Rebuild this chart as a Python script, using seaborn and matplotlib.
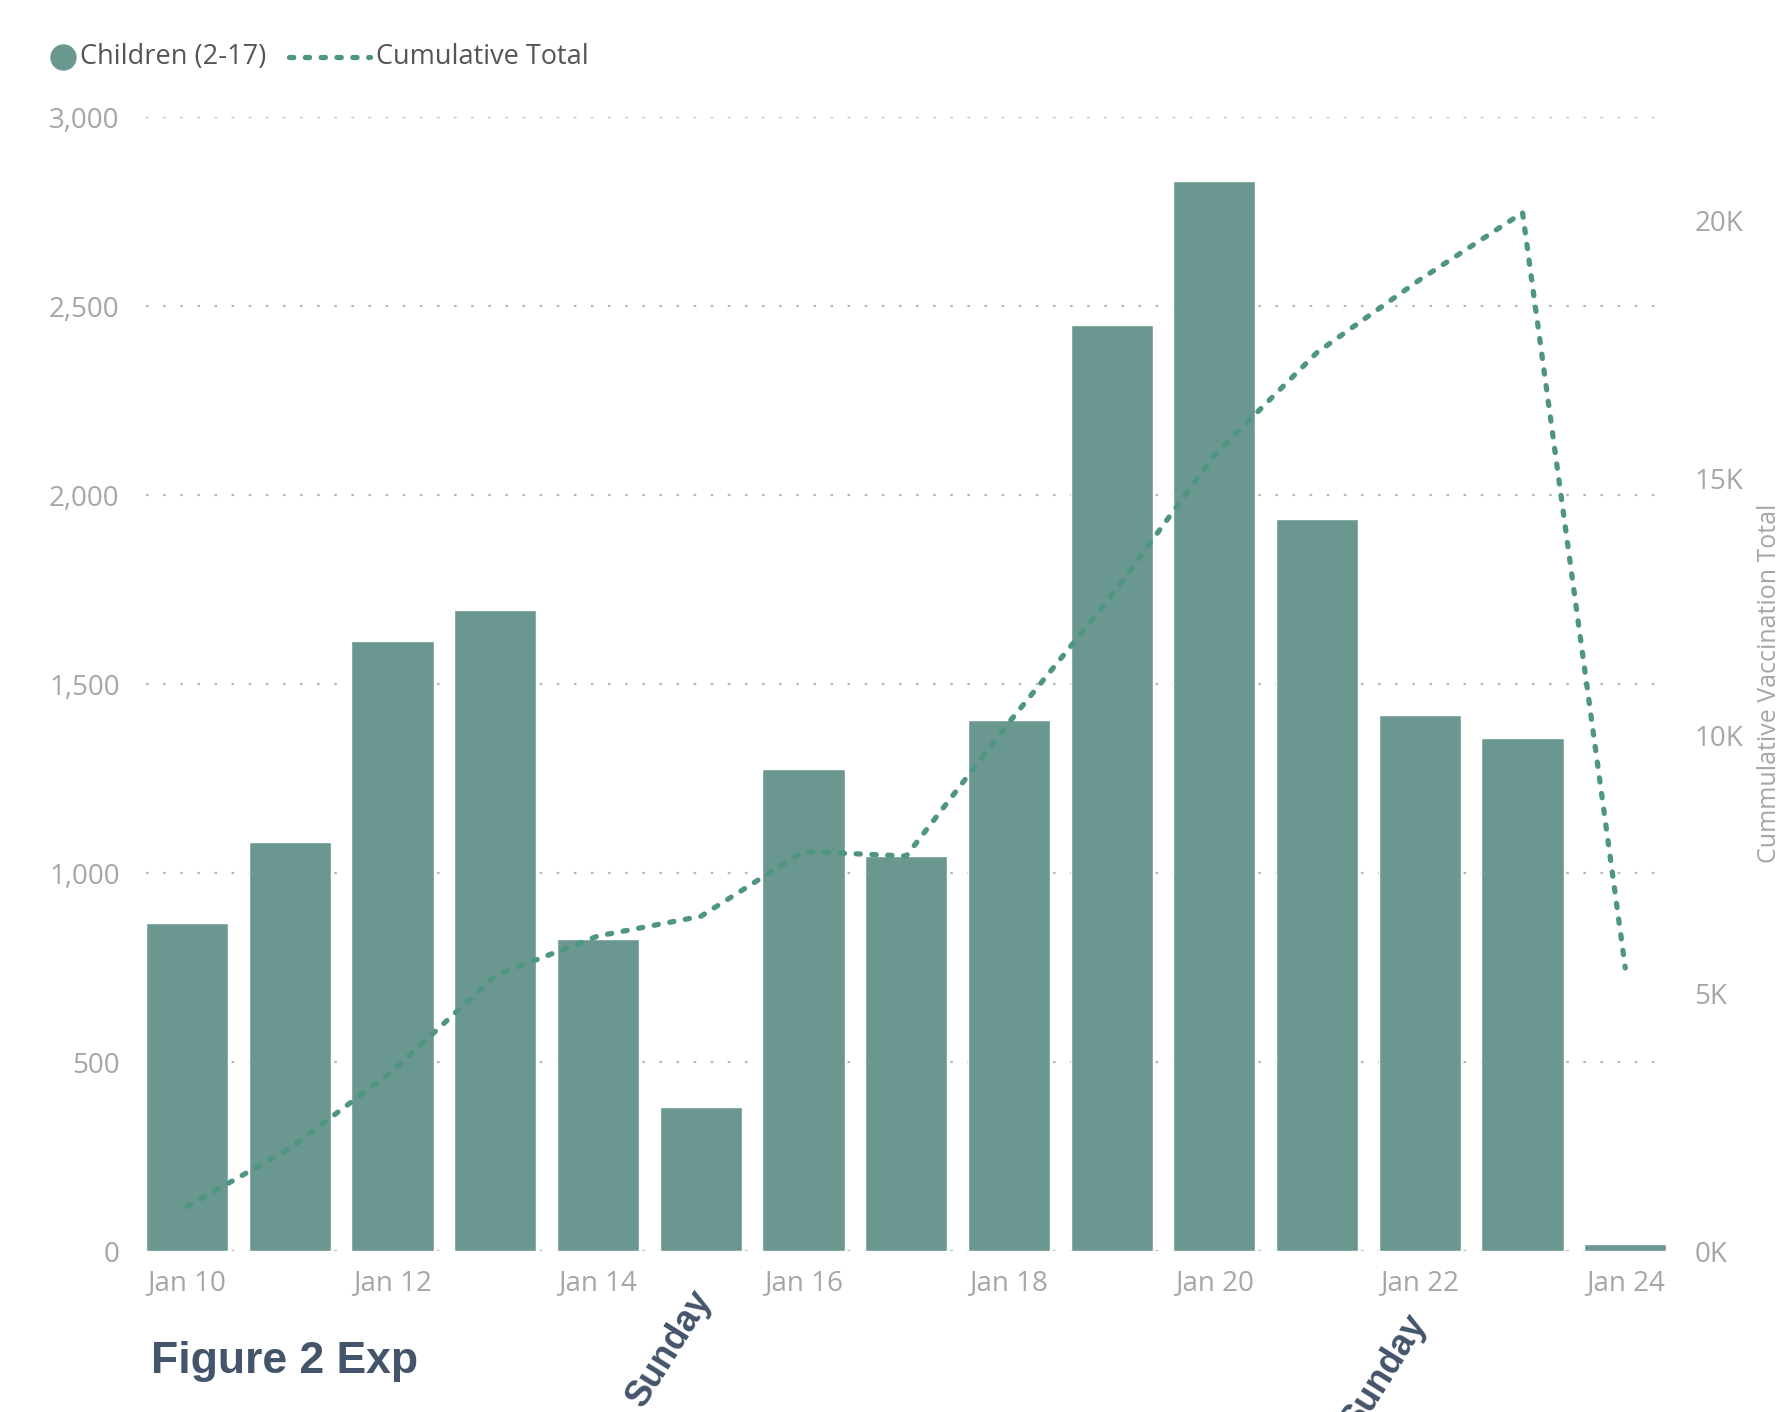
import numpy as np
import pandas as pd
import matplotlib
matplotlib.use("Agg")
import matplotlib.pyplot as plt
from matplotlib.lines import Line2D
from matplotlib.ticker import FuncFormatter
import seaborn as sns

# ---- data ----
dates = ["Jan 10", "Jan 11", "Jan 12", "Jan 13", "Jan 14", "Jan 15", "Jan 16", "Jan 17",
         "Jan 18", "Jan 19", "Jan 20", "Jan 21", "Jan 22", "Jan 23", "Jan 24"]
children = [868, 1082, 1616, 1697, 826, 383, 1275, 1046,
            1405, 2451, 2831, 1938, 1420, 1357, 20]
cumulative = [870, 2000, 3500, 5350, 6120, 6500, 7760, 7670,
              10260, 12720, 15450, 17440, 18850, 20150, 5500]
left_ticks = [0, 500, 1000, 1500, 2000, 2500, 3000]
right_ticks = [0, 5000, 10000, 15000, 20000]
legend_labels = ["Children (2-17)", "Cumulative Total"]
sunday_labels = ["Sunday", "Sunday"]

BAR = "#6a9890"
LINE = "#4f9682"
GRID = "#b9b9b9"
TICK = "#a6a6a6"
DARK = "#44546a"
LINESTYLE = (0, (0.8, 2.2))

sns.set_theme(style="white")
plt.rcParams["font.family"] = ["Open Sans", "DejaVu Sans"]

fig = plt.figure(figsize=(17.87, 14.12), dpi=100)
ax = fig.add_axes([0.0817, 0.1137, 0.8508, 0.8032])

df = pd.DataFrame({"date": dates, "children": children})
sns.barplot(data=df, x="date", y="children", color=BAR, width=0.8,
            saturation=1, ax=ax, zorder=3)

ax.set_ylim(0, 3000)
ax.set_xlim(-0.4, len(dates) - 0.6)
ax.set_yticks(left_ticks)
ax.yaxis.set_major_formatter(FuncFormatter(lambda v, p: f"{int(v):,}"))
ax.set_xticks(range(0, len(dates), 2))
ax.set_xticklabels(dates[::2])
ax.tick_params(axis="both", length=0, colors=TICK, labelsize=20)
ax.tick_params(axis="y", pad=19)
ax.tick_params(axis="x", pad=13)
ax.set_xlabel("")
ax.set_ylabel("")
for s in ax.spines.values():
    s.set_visible(False)
ax.grid(False)
for v in left_ticks:
    ax.axhline(v, color=GRID, lw=1.6, linestyle=(0, (1.2, 6.5)), zorder=1)

ax2 = ax.twinx()
sns.lineplot(x=np.arange(len(cumulative)), y=cumulative, ax=ax2, color=LINE,
             lw=3.8, zorder=4)
ax2.lines[0].set_linestyle(LINESTYLE)
ax2.lines[0].set_dash_capstyle("round")
ax2.set_ylim(0, 22000)
ax2.set_yticks(right_ticks)
ax2.yaxis.set_major_formatter(FuncFormatter(lambda v, p: f"{int(v/1000)}K"))
ax2.tick_params(axis="y", length=0, colors=TICK, labelsize=20, pad=20)
ax2.set_ylabel("")
for s in ax2.spines.values():
    s.set_visible(False)
ax2.grid(False)
ax.set_zorder(ax2.get_zorder() - 1)
ax.patch.set_visible(False)

fig.text(0.9904, 0.516, "Cummulative Vaccination Total", rotation=90, color=TICK,
         fontsize=18, ha="center", va="center")

# legend (drawn manually to match the compact Power BI legend)
ly = 0.9596
fig.add_artist(Line2D([0.0351], [ly], marker="o", color=BAR, markersize=18,
                      linestyle="none", transform=fig.transFigure))
fig.text(0.0446, ly, legend_labels[0], fontsize=19.5, color="#555555",
         ha="left", va="center")
fig.add_artist(Line2D([0.1615, 0.2068], [ly, ly], color=LINE, lw=3.8,
                      linestyle=LINESTYLE, dash_capstyle="round",
                      transform=fig.transFigure))
fig.text(0.2105, ly, legend_labels[1], fontsize=19.5, color="#555555",
         ha="left", va="center")

fig.text(0.0845, 0.036, "Figure 2 Exp", fontsize=32, fontweight="bold", color=DARK,
         family=["Liberation Sans Narrow", "Liberation Sans", "DejaVu Sans"], va="center")
fig.text(0.375, 0.045, sunday_labels[0], fontsize=26, fontweight="bold", color=DARK,
         rotation=58, ha="center", va="center",
         family=["Liberation Sans", "DejaVu Sans"])
fig.text(0.775, 0.028, sunday_labels[1], fontsize=26, fontweight="bold", color=DARK,
         rotation=58, ha="center", va="center",
         family=["Liberation Sans", "DejaVu Sans"])

fig.savefig("out.png", dpi=100)
